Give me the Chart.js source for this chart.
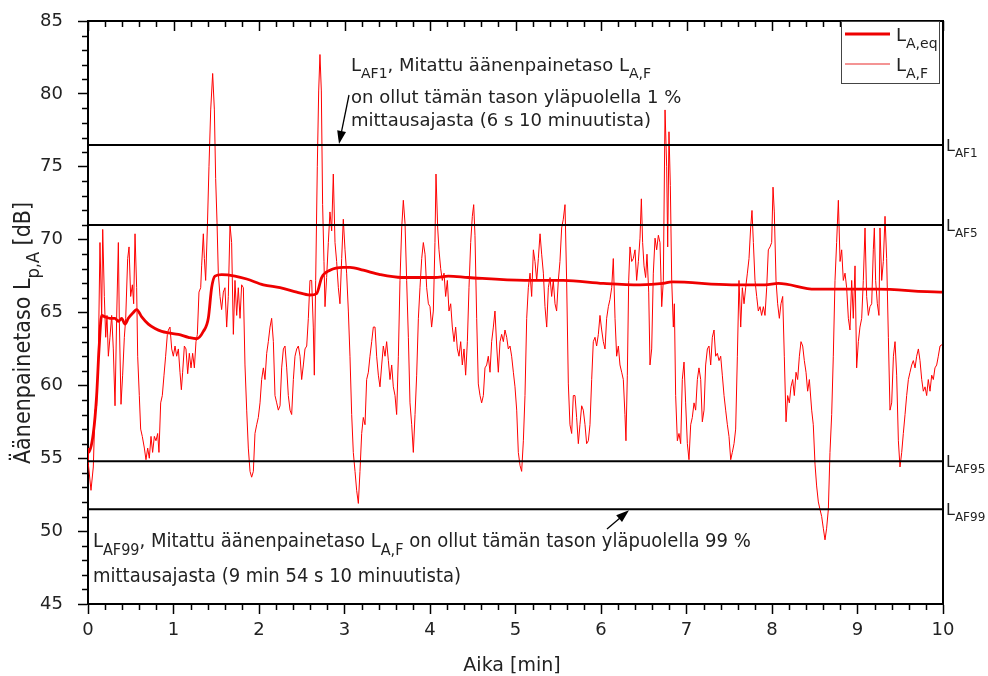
<!DOCTYPE html>
<html>
<head>
<meta charset="utf-8">
<script src="https://cdn.jsdelivr.net/npm/chart.js@4/dist/chart.umd.min.js"></script>
<style>
  html, body { margin: 0; padding: 0; background: #fff; }
  canvas { display: block; }
</style>
</head>
<body>
<canvas id="chart" width="988" height="676"></canvas>
<script>
// ---- Data ----
// LA,F: fast time-weighted level, time in minutes
const lafTime = [
  0, 0.004, 0.035, 0.062, 0.082, 0.101, 0.121, 0.140, 0.160, 0.172,
  0.191, 0.207, 0.222, 0.238, 0.257, 0.277, 0.296, 0.316, 0.335, 0.355,
  0.366, 0.386, 0.405, 0.425, 0.441, 0.464, 0.480, 0.499, 0.519, 0.534,
  0.550, 0.569, 0.581, 0.600, 0.616, 0.635, 0.659, 0.678, 0.698, 0.717,
  0.737, 0.756, 0.776, 0.795, 0.815, 0.830, 0.850, 0.869, 0.889, 0.908,
  0.928, 0.940, 0.959, 0.979, 0.998, 1.018, 1.037, 1.057, 1.076, 1.092,
  1.107, 1.127, 1.146, 1.166, 1.185, 1.205, 1.224, 1.244, 1.263, 1.279,
  1.298, 1.318, 1.329, 1.349, 1.361, 1.376, 1.396, 1.415, 1.435, 1.458,
  1.478, 1.493, 1.509, 1.524, 1.544, 1.563, 1.583, 1.602, 1.622, 1.641,
  1.661, 1.680, 1.700, 1.719, 1.739, 1.758, 1.778, 1.797, 1.817, 1.836,
  1.856, 1.875, 1.895, 1.914, 1.934, 1.953, 1.973, 1.992, 2.012, 2.031,
  2.051, 2.070, 2.090, 2.109, 2.129, 2.148, 2.168, 2.187, 2.207, 2.226,
  2.246, 2.265, 2.285, 2.304, 2.324, 2.343, 2.363, 2.382, 2.402, 2.421,
  2.441, 2.460, 2.480, 2.499, 2.519, 2.538, 2.558, 2.577, 2.596, 2.616,
  2.635, 2.647, 2.663, 2.682, 2.698, 2.713, 2.729, 2.744, 2.760, 2.772,
  2.791, 2.811, 2.830, 2.850, 2.869, 2.889, 2.908, 2.928, 2.947, 2.967,
  2.986, 3.006, 3.025, 3.045, 3.064, 3.084, 3.103, 3.123, 3.142, 3.162,
  3.181, 3.201, 3.220, 3.240, 3.259, 3.279, 3.298, 3.318, 3.337,
  3.357, 3.376, 3.396, 3.415, 3.435, 3.454, 3.474, 3.493, 3.513, 3.532,
  3.552, 3.571, 3.591, 3.610, 3.630, 3.649, 3.669, 3.688, 3.708, 3.727,
  3.747, 3.766, 3.786, 3.805, 3.825, 3.844, 3.864, 3.883, 3.903, 3.922,
  3.942, 3.961, 3.981, 4.000, 4.019, 4.039, 4.058, 4.070, 4.090, 4.105,
  4.125, 4.144, 4.164, 4.183, 4.203, 4.222, 4.242, 4.261, 4.281, 4.300,
  4.320, 4.339, 4.359, 4.378, 4.398, 4.417, 4.437, 4.456, 4.476, 4.495,
  4.511, 4.526, 4.546, 4.565, 4.585, 4.604, 4.624, 4.643, 4.663, 4.682,
  4.702, 4.721, 4.741, 4.760, 4.780, 4.799, 4.819, 4.838, 4.858, 4.877,
  4.897, 4.916, 4.936, 4.955, 4.975, 4.994, 5.014, 5.033, 5.053, 5.072,
  5.092, 5.111, 5.131, 5.150, 5.170, 5.189, 5.209, 5.228, 5.248, 5.267,
  5.287, 5.306, 5.326, 5.345, 5.365, 5.384, 5.404, 5.423, 5.442, 5.462,
  5.481, 5.501, 5.520, 5.540, 5.559, 5.579, 5.598, 5.618, 5.637, 5.657,
  5.676, 5.696, 5.715, 5.735, 5.754, 5.774, 5.793, 5.813, 5.832, 5.852,
  5.871, 5.891, 5.910, 5.930, 5.949, 5.969, 5.988, 6.008, 6.027, 6.047,
  6.066, 6.086, 6.105, 6.125, 6.144, 6.164, 6.183, 6.203, 6.222, 6.242,
  6.261, 6.280, 6.292, 6.308, 6.324, 6.339, 6.359, 6.378, 6.398, 6.417,
  6.437, 6.456, 6.472, 6.487, 6.503, 6.522, 6.538, 6.558, 6.573, 6.593,
  6.612, 6.632, 6.651, 6.671, 6.690, 6.710, 6.729,
  6.749, 6.768, 6.780, 6.795, 6.811, 6.827, 6.846, 6.858, 6.873, 6.893,
  6.912, 6.932, 6.951, 6.971, 6.990, 7.010, 7.029, 7.049, 7.068, 7.088,
  7.107, 7.127, 7.146, 7.166, 7.185, 7.205, 7.224, 7.244, 7.263, 7.283,
  7.302, 7.322, 7.341, 7.361, 7.380, 7.400, 7.419, 7.439, 7.458, 7.478,
  7.497, 7.517, 7.536, 7.556, 7.575, 7.595, 7.614, 7.634, 7.653, 7.673,
  7.692, 7.712, 7.731, 7.750, 7.766, 7.782, 7.801, 7.821, 7.840, 7.860,
  7.879, 7.899, 7.918, 7.938, 7.957, 7.977, 7.996, 8.012, 8.027, 8.047,
  8.066, 8.086, 8.105, 8.125, 8.144, 8.164, 8.183, 8.203, 8.222, 8.242,
  8.261, 8.281, 8.300, 8.320, 8.339, 8.359, 8.378, 8.398, 8.417, 8.437,
  8.464, 8.483, 8.503, 8.522, 8.542, 8.561, 8.581, 8.600, 8.620, 8.639,
  8.659, 8.678, 8.698, 8.717, 8.737, 8.756, 8.776, 8.796, 8.815, 8.834,
  8.854, 8.873, 8.893, 8.912, 8.932, 8.951, 8.971, 8.990, 9.010, 9.029,
  9.049, 9.068, 9.088, 9.107, 9.127, 9.146, 9.166, 9.185, 9.197, 9.212,
  9.232, 9.251, 9.263, 9.283, 9.302, 9.322, 9.341, 9.361, 9.380, 9.400,
  9.420, 9.439, 9.458, 9.478, 9.497, 9.517, 9.536, 9.556, 9.575, 9.595,
  9.614, 9.634, 9.653, 9.673, 9.692, 9.712, 9.731, 9.751, 9.770, 9.790,
  9.809, 9.828, 9.848, 9.868, 9.887, 9.906, 9.926, 9.945, 9.965, 9.990
];
const lafLevel = [
  55.7, 54.6, 52.8, 54.4, 58.3, 58.6, 62.0, 69.8, 64.7, 70.7,
  66.1, 63.3, 64.8, 62.0, 63.3, 64.8, 62.5, 58.6, 64.6, 69.8,
  64.6, 58.7, 60.7, 63.3, 64.6, 68.7, 69.5, 66.1, 66.9, 65.6,
  70.4, 66.7, 62.0, 59.3, 57.0, 56.5, 55.7, 54.9, 55.7, 55.0,
  56.5, 55.4, 56.5, 56.2, 56.7, 55.4, 58.8, 59.3, 60.7, 62.0,
  63.5, 63.8, 64.0, 62.5, 62.0, 62.7, 62.0, 62.5, 60.9, 59.7,
  60.9, 62.7, 62.5, 60.8, 62.2, 61.2, 62.2, 61.2, 63.0, 63.5,
  66.4, 66.7, 68.2, 70.4, 68.7, 67.2, 70.8, 75.0, 78.9, 81.4,
  78.9, 74.2, 71.2, 67.7, 66.1, 65.2, 66.4, 66.7, 64.0, 66.1,
  71.0, 69.8, 63.5, 67.2, 64.8, 66.7, 64.6, 66.9, 66.7, 61.4,
  58.3, 55.7, 54.1, 53.7, 54.1, 56.7, 57.3, 57.8, 58.8, 60.4,
  61.2, 60.4, 62.2, 63.0, 64.0, 64.6, 63.0, 59.3, 58.8, 58.3,
  58.6, 61.2, 62.5, 62.7, 61.2, 59.3, 58.3, 58.0, 60.4, 62.0,
  62.5, 62.7, 62.0, 60.4, 61.4, 62.5, 62.7, 64.6, 67.2, 67.2,
  64.0, 60.7, 67.2, 75.0, 80.2, 82.7, 80.2, 72.4, 68.5, 65.4,
  67.4, 69.8, 71.9, 70.6, 74.5, 69.8, 68.5, 66.7, 65.6, 68.7,
  71.4, 69.3, 67.7, 65.1, 62.0, 58.0, 55.4, 54.1, 52.8, 51.9,
  54.1, 56.7, 57.8, 57.3, 60.4, 60.9, 62.0, 63.0, 64.0,
  64.0, 62.0, 60.7, 59.9, 61.4, 62.7, 62.0, 63.0, 61.7, 60.4,
  61.4, 59.9, 59.3, 58.0, 62.0, 67.2, 70.8, 72.7, 71.1, 67.2,
  63.3, 58.8, 57.3, 55.4, 58.0, 60.7, 64.6, 66.7, 68.7, 69.8,
  69.0, 66.7, 65.6, 65.4, 64.0, 65.1, 69.8, 74.5, 70.8, 69.3,
  68.0, 67.2, 67.7, 66.1, 67.2, 65.1, 65.6, 64.0, 63.0, 64.0,
  62.5, 62.0, 63.0, 61.4, 62.5, 60.7, 63.0, 66.7, 69.8, 71.6,
  72.4, 70.3, 64.6, 60.1, 59.3, 58.8, 59.3, 61.2, 61.4, 62.0,
  60.9, 63.0, 64.0, 65.1, 62.7, 60.9, 63.0, 63.5, 63.0, 63.8,
  63.3, 62.5, 62.7, 62.0, 60.9, 59.9, 58.3, 55.4, 54.5, 54.1,
  56.2, 59.3, 64.6, 66.7, 67.7, 66.1, 69.3, 68.5, 67.2, 68.7,
  70.4, 69.0, 67.7, 65.4, 64.0, 66.7, 67.4, 66.1, 67.2, 65.6,
  65.1, 67.2, 68.5, 70.8, 71.4, 72.4, 67.2, 60.1, 57.3, 56.7,
  59.3, 59.3, 57.8, 56.0, 57.3, 58.6, 58.3, 57.3, 56.0, 56.2,
  57.3, 60.4, 63.0, 63.3, 62.7, 63.5, 64.8, 63.8, 63.0, 62.5,
  64.6, 65.4, 65.9, 66.7, 68.7, 64.6, 62.0, 62.7, 61.4, 60.9,
  60.4, 58.0, 56.2, 60.7, 67.2, 69.5, 68.5, 68.7, 69.3, 67.2,
  68.5, 70.1, 72.8, 69.8, 68.2, 67.4, 69.0, 66.4, 61.4, 62.5,
  67.7, 70.1, 69.3, 70.3, 69.8, 65.4, 67.2,
  78.9, 75.0, 69.5, 77.4, 73.7, 67.2, 64.0, 65.6, 59.3, 56.2,
  56.7, 56.0, 60.4, 61.6, 58.8, 56.0, 54.9, 57.3, 57.8, 58.8,
  58.3, 60.4, 61.2, 60.4, 57.5, 58.3, 61.4, 62.5, 62.7, 61.4,
  63.3, 63.8, 62.0, 62.2, 61.7, 62.0, 60.7, 59.3, 58.3, 57.3,
  56.5, 54.9, 55.4, 56.0, 57.0, 62.0, 67.2, 64.0, 66.7, 65.6,
  66.7, 67.7, 68.7, 70.8, 72.0, 69.8, 67.2, 66.1, 65.1, 65.4,
  64.8, 65.4, 64.8, 66.7, 69.3, 69.5, 69.8, 73.6, 71.9, 67.2,
  65.6, 64.6, 65.6, 66.1, 62.0, 57.5, 59.3, 58.8, 59.9, 60.4,
  59.3, 60.9, 60.4, 62.0, 63.0, 62.7, 61.7, 60.9, 59.6, 60.4,
  58.3, 57.3, 54.6, 53.1, 52.0, 51.5, 51.0, 50.2, 49.4, 50.2,
  51.5, 55.4, 58.0, 62.0, 67.2, 69.8, 72.7, 68.5, 69.3, 67.2,
  67.7, 66.7, 64.6, 63.8, 67.2, 64.6, 68.2, 61.2, 63.0, 64.0,
  64.6, 67.2, 70.8, 66.1, 64.8, 65.4, 65.6, 69.3, 70.8, 67.2,
  65.6, 64.8, 70.8, 67.2, 68.5, 71.6, 68.7, 63.3, 58.3, 58.8,
  62.0, 63.0, 60.7, 56.2, 54.4, 55.4, 56.7, 58.0, 59.3, 60.4,
  60.9, 61.4, 61.7, 61.2, 62.0, 62.5, 61.7, 60.4, 59.6, 59.9,
  59.3, 60.4, 59.6, 60.7, 60.4, 61.2, 61.4, 62.0, 62.7, 62.8
];

// LA,eq: running equivalent level
const leqTime = [
  0, 0.004, 0.062, 0.101, 0.129, 0.160, 0.199, 0.257, 0.316, 0.355,
  0.394, 0.433, 0.472, 0.530, 0.569, 0.628, 0.706, 0.784, 0.862, 0.940,
  1.057, 1.174, 1.271, 1.349, 1.407, 1.446, 1.485, 1.563, 1.719, 1.856,
  2.051, 2.246, 2.441, 2.596, 2.674, 2.733, 2.830, 2.986, 3.064, 3.220,
  3.415, 3.669, 4.058, 4.214, 4.448, 5.111, 5.559, 6.027, 6.456, 6.729,
  6.827, 7.529, 7.918, 8.074, 8.503, 9.224, 9.965, 10
];
const leqLevel = [
  55.7, 55.4, 56.7, 59.3, 62.5, 64.8, 64.7, 64.6, 64.6, 64.4,
  64.6, 64.2, 64.6, 65.0, 65.2, 64.7, 64.2, 63.9, 63.7, 63.6,
  63.5, 63.3, 63.2, 63.7, 64.6, 66.7, 67.5, 67.6, 67.5, 67.3,
  66.9, 66.7, 66.4, 66.2, 66.3, 67.4, 67.9, 68.1, 68.1, 67.9,
  67.6, 67.4, 67.4, 67.5, 67.4, 67.2, 67.2, 67.0, 66.9, 67.0,
  67.1, 66.9, 66.9, 67.0, 66.6, 66.6, 66.4, 66.4
];

// statistical levels (horizontal lines)
const refNames = ['AF1', 'AF5', 'AF95', 'AF99'];
const refLevels = [76.5, 71.0, 54.8, 51.5];

const xRange = [0, 10];
const yRange = [45, 85];

// ---- helpers ----
const FONT = 'DejaVu Sans, Verdana, sans-serif';
const NARROW = '"DejaVu Sans Condensed", "Liberation Sans Narrow", Arial, sans-serif';
const INK = '#222';

// parts: plain strings, '_' prefix = subscript
function richText(ctx, x, y, parts, size, family, align) {
  const sub = Math.round(size * 0.78);
  let total = 0;
  const pieces = parts.map(p => {
    const isSub = p.startsWith('_');
    const t = isSub ? p.slice(1) : p;
    ctx.font = (isSub ? sub : size) + 'px ' + family;
    const w = ctx.measureText(t).width;
    total += w;
    return { t, isSub, w };
  });
  let cx = align === 'center' ? x - total / 2 : x;
  ctx.textAlign = 'left';
  ctx.textBaseline = 'alphabetic';
  pieces.forEach(p => {
    ctx.font = (p.isSub ? sub : size) + 'px ' + family;
    ctx.fillText(p.t, cx, y + (p.isSub ? size * 0.38 : 0));
    cx += p.w;
  });
}

function arrow(ctx, x1, y1, x2, y2) {
  const a = Math.atan2(y2 - y1, x2 - x1);
  ctx.beginPath();
  ctx.moveTo(x1, y1);
  ctx.lineTo(x2 - 8 * Math.cos(a), y2 - 8 * Math.sin(a));
  ctx.stroke();
  ctx.beginPath();
  ctx.moveTo(x2, y2);
  ctx.lineTo(x2 - 13 * Math.cos(a) + 4.5 * Math.sin(a), y2 - 13 * Math.sin(a) - 4.5 * Math.cos(a));
  ctx.lineTo(x2 - 13 * Math.cos(a) - 4.5 * Math.sin(a), y2 - 13 * Math.sin(a) + 4.5 * Math.cos(a));
  ctx.closePath();
  ctx.fill();
}

// ---- decorations: minor ticks, frame, labels, legend, notes ----
const decor = {
  id: 'decor',
  afterDraw(chart) {
    const { ctx, chartArea: a, scales: { x, y } } = chart;
    ctx.save();
    ctx.strokeStyle = '#000';
    ctx.fillStyle = '#000';

    // top and right frame
    ctx.lineWidth = 2;
    ctx.beginPath();
    ctx.moveTo(a.left, a.top); ctx.lineTo(a.right, a.top); ctx.lineTo(a.right, a.bottom);
    ctx.stroke();

    // x minor ticks (bottom outward), top ticks (inward)
    ctx.lineWidth = 1.5;
    for (let v = xRange[0]; v <= xRange[1] + 1e-9; v += 0.2) {
      const px = Math.round(x.getPixelForValue(v)) + 0.5;
      const major = Math.abs(v - Math.round(v)) < 1e-6;
      ctx.beginPath();
      if (!major) { ctx.moveTo(px, a.bottom); ctx.lineTo(px, a.bottom + 6); }
      ctx.moveTo(px, a.top); ctx.lineTo(px, a.top + (major ? 10 : 6));
      ctx.stroke();
    }
    // y minor ticks (left outward)
    for (let v = yRange[0]; v <= yRange[1]; v += 1) {
      if (v % 5 === 0) continue;
      const py = Math.round(y.getPixelForValue(v)) + 0.5;
      ctx.beginPath();
      ctx.moveTo(a.left, py); ctx.lineTo(a.left - 6, py);
      ctx.stroke();
    }

    ctx.fillStyle = INK;
    // right-hand labels of the statistical levels
    refNames.forEach((n, i) => {
      const py = y.getPixelForValue(refLevels[i]);
      richText(ctx, a.right + 3, py + 6, ['L', '_' + n], 16, FONT);
    });

    // legend box
    const lx = 841, ly = a.top, lw = 98, lh = 62;
    ctx.fillStyle = '#fff';
    ctx.fillRect(lx, ly, lw, lh);
    ctx.strokeStyle = '#444';
    ctx.lineWidth = 1;
    ctx.strokeRect(lx + 0.5, ly + 0.5, lw, lh);
    ctx.lineWidth = 3;
    ctx.strokeStyle = '#ee0000';
    ctx.beginPath(); ctx.moveTo(845, 34); ctx.lineTo(890, 34); ctx.stroke();
    ctx.lineWidth = 1.5;
    ctx.strokeStyle = '#f07070';
    ctx.beginPath(); ctx.moveTo(845, 64); ctx.lineTo(890, 64); ctx.stroke();
    ctx.fillStyle = INK;
    richText(ctx, 896, 41, ['L', '_A,eq'], 18, FONT);
    richText(ctx, 896, 71, ['L', '_A,F'], 18, FONT);

    // annotations
    richText(ctx, 351, 71, ['L', '_AF1', ', Mitattu äänenpainetaso L', '_A,F'], 18, FONT);
    richText(ctx, 351, 103, ['on ollut tämän tason yläpuolella 1 %'], 18, FONT);
    richText(ctx, 351, 126, ['mittausajasta (6 s 10 minuutista)'], 18, FONT);
    richText(ctx, 93, 547, ['L', '_AF99', ', Mitattu äänenpainetaso L', '_A,F', ' on ollut tämän tason yläpuolella 99 %'], 20, NARROW);
    richText(ctx, 93, 582, ['mittausajasta (9 min 54 s 10 minuutista)'], 20, NARROW);

    ctx.strokeStyle = '#000';
    ctx.fillStyle = '#000';
    ctx.lineWidth = 1.3;
    arrow(ctx, 349, 95, 339, y.getPixelForValue(refLevels[0]) - 1);
    arrow(ctx, 607, 529, 629, y.getPixelForValue(refLevels[3]) + 1);

    // axis titles
    ctx.fillStyle = INK;
    richText(ctx, 512, 671, ['Aika [min]'], 19, FONT, 'center');
    ctx.save();
    ctx.translate(30, 333);
    ctx.rotate(-Math.PI / 2);
    richText(ctx, 0, 0, ['Äänenpainetaso L', '_p,A', ' [dB]'], 23, NARROW, 'center');
    ctx.restore();

    ctx.restore();
  }
};

// ---- chart ----
const refSets = refLevels.map((v, i) => ({
  label: 'L' + refNames[i],
  data: [{ x: xRange[0], y: v }, { x: xRange[1], y: v }],
  borderColor: '#000',
  borderWidth: 2,
  pointRadius: 0
}));

new Chart(document.getElementById('chart').getContext('2d'), {
  type: 'line',
  data: {
    datasets: [
      ...refSets,
      {
        label: 'LA,F',
        data: lafTime.map((t, i) => ({ x: t, y: lafLevel[i] })),
        borderColor: '#ff0000',
        borderWidth: 1,
        pointRadius: 0
      },
      {
        label: 'LA,eq',
        data: leqTime.map((t, i) => ({ x: t, y: leqLevel[i] })),
        borderColor: '#ee0000',
        borderWidth: 2.8,
        pointRadius: 0,
        cubicInterpolationMode: 'monotone'
      }
    ]
  },
  options: {
    responsive: false,
    animation: false,
    layout: { padding: { top: 21, right: 45, left: 0, bottom: 0 } },
    plugins: { legend: { display: false }, tooltip: { enabled: false } },
    scales: {
      x: {
        type: 'linear',
        min: xRange[0], max: xRange[1],
        afterFit: s => { s.height = 72; s.paddingLeft = 0; s.paddingRight = 0; },
        ticks: { stepSize: 1, color: INK, font: { family: FONT, size: 18 }, padding: 6, maxRotation: 0, autoSkip: false },
        grid: { drawOnChartArea: false, tickLength: 10, tickWidth: 1.5, tickColor: '#000' },
        border: { color: '#000', width: 2 }
      },
      y: {
        min: yRange[0], max: yRange[1],
        afterFit: s => { s.width = 88; s.paddingTop = 0; s.paddingBottom = 0; },
        ticks: { stepSize: 5, color: INK, font: { family: FONT, size: 18 }, padding: 15 },
        grid: { drawOnChartArea: false, tickLength: 10, tickWidth: 1.5, tickColor: '#000' },
        border: { color: '#000', width: 2 }
      }
    }
  },
  plugins: [decor]
});
</script>
</body>
</html>
